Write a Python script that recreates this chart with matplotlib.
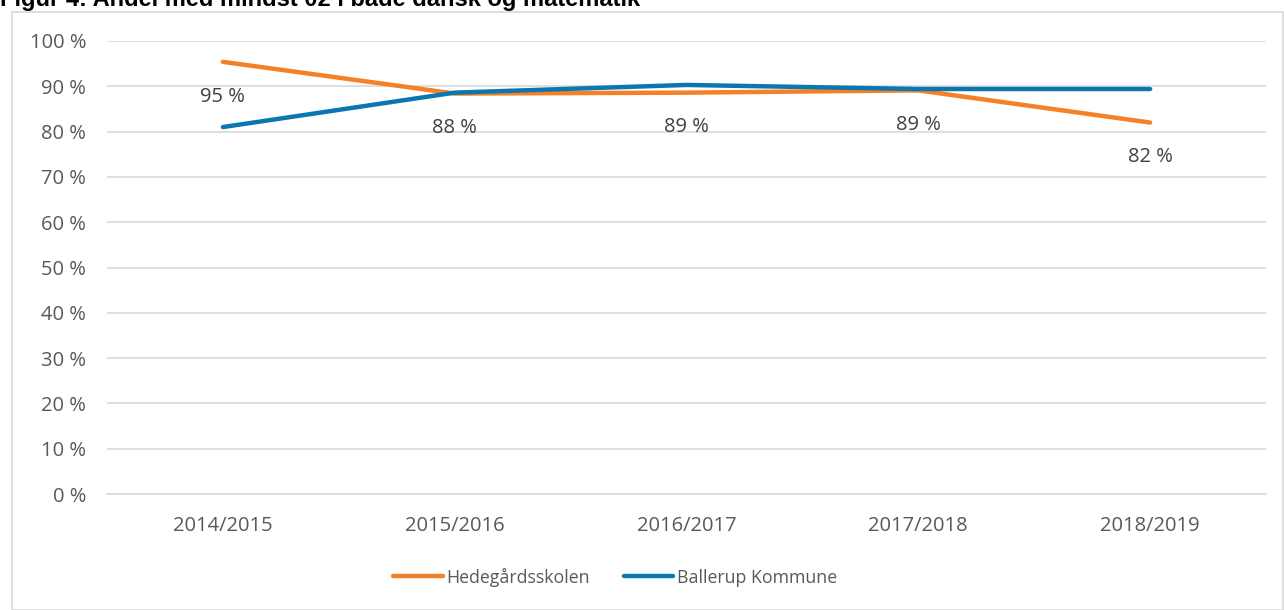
import matplotlib
matplotlib.use("Agg")
import matplotlib.pyplot as plt
from matplotlib.patches import Rectangle

years = ["2014/2015", "2015/2016", "2016/2017", "2017/2018", "2018/2019"]
hedegaard = [95.4, 88.4, 88.6, 89.1, 82.0]
ballerup = [81.0, 88.6, 90.3, 89.4, 89.4]
labels_hede = ["95 %", "88 %", "89 %", "89 %", "82 %"]
yticks = list(range(0, 101, 10))
ytick_labels = [f"{v} %" for v in yticks]
title = "Figur 4: Andel med mindst 02 i både dansk og matematik"

ORANGE = "#F58025"
BLUE = "#0A77B0"
GRID = "#D9D9D9"
TXT = "#595959"
FONT = ["Open Sans", "DejaVu Sans"]
FS = 14.5

W, H = 1284, 610
fig = plt.figure(figsize=(W / 100, H / 100), dpi=100)

# outer chart frame
fig.patches.append(Rectangle((12 / W, 0), (W - 13) / W, 1 - 12 / H - 0.0005,
                             transform=fig.transFigure, fill=False,
                             edgecolor=GRID, linewidth=1.2, zorder=0))
fig.text(0.0, 1 - 6 / H, title, fontsize=17, fontweight="bold",
         family=["Liberation Sans", "DejaVu Sans"], color="black",
         ha="left", va="baseline")

ax = fig.add_axes([107 / W, 1 - 494 / H, (1266 - 107) / W, (494 - 41) / H])
x = list(range(len(years)))
ax.plot(x, hedegaard, color=ORANGE, linewidth=3.2, solid_capstyle="round",
        label="Hedegårdsskolen", zorder=3)
ax.plot(x, ballerup, color=BLUE, linewidth=3.2, solid_capstyle="round",
        label="Ballerup Kommune", zorder=4)

for xi, yi, lab in zip(x, hedegaard, labels_hede):
    ax.annotate(lab, (xi, yi), xytext=(0, -25), textcoords="offset points",
                ha="center", va="center", fontsize=FS, color="#404040",
                family=FONT)

ax.set_xlim(-0.5, len(years) - 0.5)
ax.set_ylim(0, 100)
ax.set_yticks(yticks)
ax.set_yticklabels(ytick_labels)
ax.set_xticks(x)
ax.set_xticklabels(years)
ax.yaxis.grid(True, color=GRID, linewidth=1.2)
ax.set_axisbelow(True)
for s in ["top", "right", "left"]:
    ax.spines[s].set_visible(False)
ax.spines["bottom"].set_color(GRID)
ax.spines["bottom"].set_linewidth(1.2)
ax.tick_params(axis="both", length=0, colors=TXT, labelsize=FS)
ax.tick_params(axis="y", pad=15)
ax.tick_params(axis="x", pad=16)
for t in ax.get_xticklabels() + ax.get_yticklabels():
    t.set_family(FONT)

leg = fig.legend(loc="center", bbox_to_anchor=(615 / W, 1 - 577 / H), ncol=2,
                 frameon=False, handlelength=2.8,
                 handletextpad=0.2, columnspacing=1.9,
                 prop={"family": FONT, "size": 12.8})
for t in leg.get_texts():
    t.set_color(TXT)

fig.savefig("out.png", dpi=100)
